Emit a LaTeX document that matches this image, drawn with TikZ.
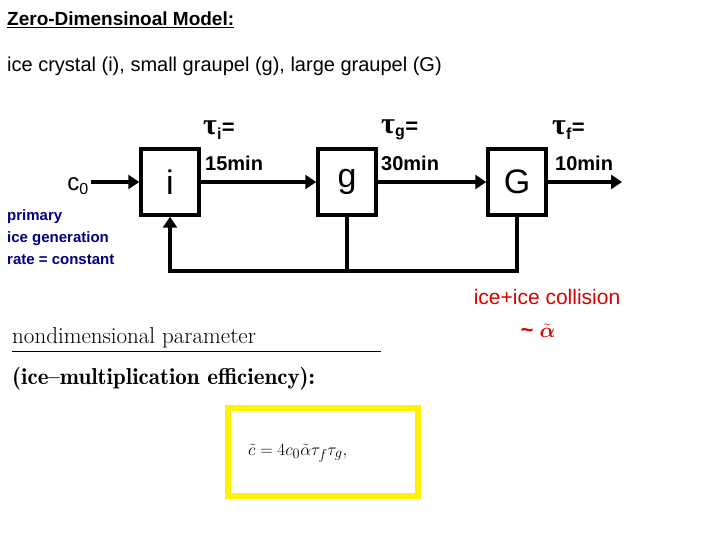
\documentclass[tikz,border=0pt]{standalone}
\usepackage{fontspec}
\usepackage{amsmath}
\setmainfont{Liberation Sans}
\newfontfamily\symf{Liberation Serif}
\usetikzlibrary{arrows.meta}
\newcommand{\tauA}{{\symf\fontsize{30}{30}\selectfont τ}}
\begin{document}
\begin{tikzpicture}[x=1pt,y=-1pt,
  blk/.style={draw,line width=3.5pt,minimum width=58pt,minimum height=66pt,inner sep=0pt,font=\fontsize{34}{34}\selectfont},
  ln/.style={line width=3.5pt},
  ar/.style={ln,-{Triangle[length=11pt,width=14pt]}},
  lab/.style={anchor=west,inner sep=0pt,font=\bfseries\fontsize{20}{22}\selectfont},
  tl/.style={anchor=west,inner sep=0pt,font=\bfseries\fontsize{22}{22}\selectfont}]
\useasboundingbox (0,0) rectangle (720,540);
\node[anchor=west,inner sep=0pt,font=\bfseries\fontsize{19}{20}\selectfont] (title) at (7,20) {\underline{Zero-Dimensinoal Model:}};
\node[anchor=west,inner sep=0pt,font=\fontsize{20}{22}\selectfont] (sub) at (7,66) {ice crystal (i), small graupel (g), large graupel (G)};
\node[blk] (i) at (170,182) {i};
\node[blk] (g) at (347,182) {g};
\node[blk] (G) at (517,182) {G};
\node[inner sep=0pt,font=\fontsize{24}{24}\selectfont] (c0) at (78,186) {c$_{\textrm{\fontsize{16}{16}\selectfont 0}}$};
\coordinate (out) at (622,182);
\draw[ar] (c0.east) ++(2,-4) coordinate (c0e) -- (i.west|-c0e);
\draw[ar] (i.east) -- (g.west);
\draw[ar] (g.east) -- (G.west);
\draw[ar] (G.east) -- (out);
\coordinate (fb) at (347,271);
\draw[ln,line cap=rect] (G.south) |- (i.south|-fb);
\draw[ln] (g.south) -- (g.south|-fb);
\draw[ar] (i.south|-fb) -- (i.south);
\node[tl] (ti) at (203,130) {\tauA$_{\textrm{\fontsize{16}{16}\selectfont i}}$=};
\node[lab] (ti2) at (205,163) {15min};
\node[tl] (tg) at (381,130) {\tauA$_{\textrm{\fontsize{16}{16}\selectfont g}}$=};
\node[lab] (tg2) at (381,163) {30min};
\node[tl] (tf) at (552,130) {\tauA$_{\textrm{\fontsize{16}{16}\selectfont f}}$=};
\node[lab] (tf2) at (555,163) {10min};
\node[anchor=north west,align=left,inner sep=0pt,text=blue!50!black,font=\bfseries\fontsize{15}{22}\selectfont] (prim) at (7,209) {primary\\ice generation\\rate = constant};
\node[inner sep=0pt,text=red!85!black,font=\fontsize{21}{22}\selectfont] (coll) at (547,297) {ice+ice collision};
\node[inner sep=0pt,text=red!85!black,font=\fontsize{22}{22}\selectfont] (alp) at (538,331) {\textbf{\textasciitilde} $\tilde{\boldsymbol{\alpha}}$};
\node[anchor=west,inner sep=0pt,font=\fontfamily{lmr}\fontsize{23}{24}\selectfont] (nd) at (12,338) {nondimensional parameter};
\draw[line width=0.8pt] (12,351) -- (381,351);
\node[anchor=west,inner sep=0pt,font=\fontfamily{lmr}\bfseries\fontsize{23}{24}\selectfont] (eff) at (12,379) {(ice--multiplication efficiency):};
\node[draw=yellow,line width=6pt,minimum width=190pt,minimum height=88pt,inner sep=0pt] (eq) at (323,452) {};
\node[anchor=west,inner sep=0pt,font=\fontsize{19}{20}\selectfont] (eqt) at (248,453) {$\tilde c = 4c_0\tilde\alpha\tau_f\tau_g,$};
\end{tikzpicture}
\end{document}
